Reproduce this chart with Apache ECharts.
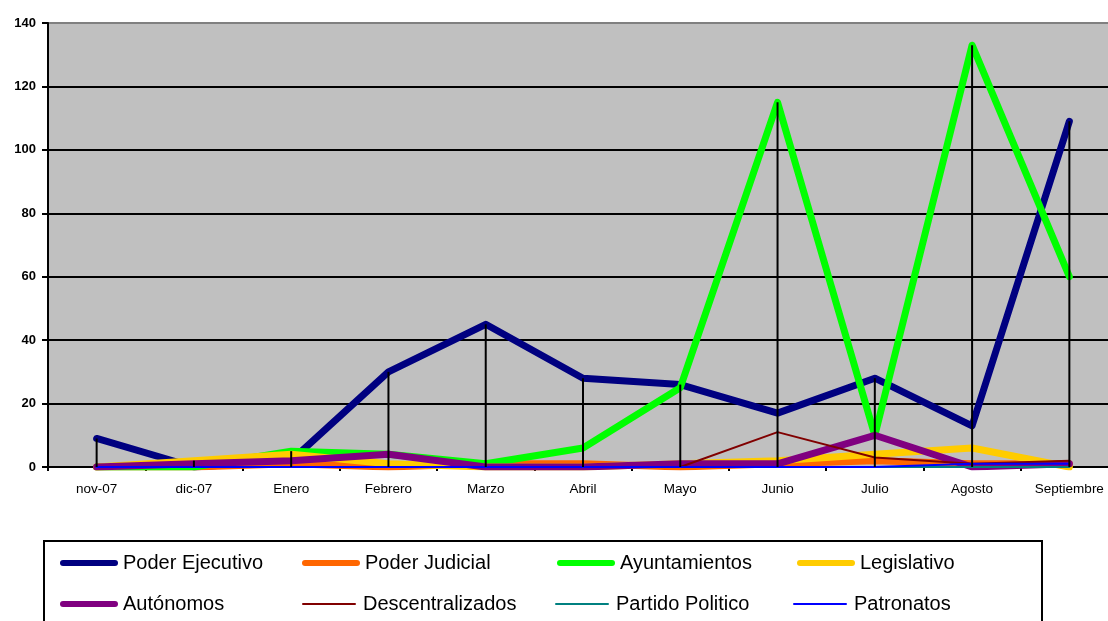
<!DOCTYPE html>
<html>
<head>
<meta charset="utf-8">
<script src="https://cdn.jsdelivr.net/npm/echarts@6/dist/echarts.min.js"></script>
<style>
html,body{margin:0;padding:0;background:#fff;}
#chart{width:1108px;height:621px;}
</style>
</head>
<body>
<div id="chart"></div>
<script>
var categories = ['nov-07','dic-07','Enero','Febrero','Marzo','Abril','Mayo','Junio','Julio','Agosto','Septiembre'];
var poderEjecutivo   = [9, 0, 2, 30, 45, 28, 26, 17, 28, 13, 109];
var poderJudicial    = [0, 0, 1, 0, 1, 1, 0, 1, 2, 1, 1];
var ayuntamientos    = [0, 0, 5, 4, 1, 6, 25, 115, 10, 133, 60];
var legislativo      = [0, 2, 4, 1, 0, 0, 1, 2, 4, 6, 0];
var autonomos        = [0, 1, 2, 4, 0, 0, 1, 1, 10, 0, 1];
var descentralizados = [0, 0, 0, 0, 0, 0, 0, 11, 3, 1, 2];
var partidoPolitico  = [0, 0, 0, 0, 0, 0, 0, 0, 0, 0, 0];
var patronatos       = [0, 0, 0, 0, 0, 0, 0, 0, 0, 1, 1];
var yTicks = [0, 20, 40, 60, 80, 100, 120, 140];

var seriesDefs = [
  {name:'Poder Ejecutivo', data:poderEjecutivo, color:'#000080', w:7},
  {name:'Poder Judicial', data:poderJudicial, color:'#FF6600', w:7},
  {name:'Ayuntamientos', data:ayuntamientos, color:'#00FF00', w:7},
  {name:'Legislativo', data:legislativo, color:'#FFCC00', w:7},
  {name:'Autónomos', data:autonomos, color:'#800080', w:7},
  {name:'Descentralizados', data:descentralizados, color:'#800000', w:2},
  {name:'Partido Politico', data:partidoPolitico, color:'#008080', w:2},
  {name:'Patronatos', data:patronatos, color:'#0000FF', w:2}
];
var legendTextWidths = [166, 179, 164, 160];

var hiLo = categories.map(function(c, i){
  var vals = seriesDefs.map(function(s){ return s.data[i]; });
  return [i, Math.max.apply(null, vals), Math.min.apply(null, vals)];
});

var series = seriesDefs.map(function(s){
  return {
    name: s.name, type: 'line', data: s.data,
    symbol: 'none', showSymbol: false, animation: false,
    color: s.color,
    lineStyle: {color: s.color, width: s.w, cap: 'round', join: 'round'},
    itemStyle: {color: s.color}
  };
});
series.push({
  type: 'custom', name: 'hilo', data: hiLo, animation: false, z: 5,
  renderItem: function(params, api){
    var p1 = api.coord([api.value(0), api.value(1)]);
    var p2 = api.coord([api.value(0), api.value(2)]);
    return {type:'line', shape:{x1:p1[0], y1:p1[1], x2:p2[0], y2:p2[1]}, style:{stroke:'#000', lineWidth:2}};
  }
});

var chart = echarts.init(document.getElementById('chart'), null, {renderer:'canvas'});
chart.setOption({
  animation: false,
  backgroundColor: '#fff',
  grid: {left: 48, right: -10, top: 23, bottom: 154, outerBoundsMode: 'none', containLabel: false,
    show: true, backgroundColor: '#C0C0C0', borderColor: '#808080', borderWidth: 2},
  xAxis: {
    type: 'category', data: categories, boundaryGap: true,
    axisLine: {lineStyle: {color: '#000', width: 2}},
    axisTick: {show: true, length: 4, lineStyle: {color: '#000', width: 2}},
    axisLabel: {color: '#000', fontFamily: 'Liberation Sans, Arial', fontSize: 13.5, margin: 15, interval: 0, hideOverlap: false}
  },
  yAxis: {
    type: 'value', min: 0, max: 140, interval: 20,
    axisLine: {show: true, lineStyle: {color: '#000', width: 2}},
    axisTick: {show: true, length: 6, lineStyle: {color: '#000', width: 2}},
    axisLabel: {color: '#000', fontFamily: 'Liberation Sans, Arial', fontSize: 13, fontWeight: 'bold', margin: 12,
      formatter: function(v){ return yTicks.indexOf(v) >= 0 ? String(v) : ''; }},
    splitLine: {show: true, lineStyle: {color: ['#000','#000','#000','#000','#000','#000','#000','#808080'], width: 2}}
  },
  legend: {
    left: 55, top: 544, width: 1010,
    itemWidth: 52, itemHeight: 8, itemGap: 13,
    itemStyle: {opacity: 0},
    textStyle: {color: '#000', fontFamily: 'Liberation Sans, Arial', fontSize: 20, width: 168, lineHeight: 28, padding: [0,0,0,3]},
    data: seriesDefs.map(function(s, i){
      return {name: s.name,
        textStyle: {color: '#000', fontFamily: 'Liberation Sans, Arial', fontSize: 20, width: legendTextWidths[i % 4], lineHeight: 28, padding: [0,0,0,3]},
        lineStyle: {color: s.color, width: s.w === 7 ? 6 : 2, cap: 'round'}};
    })
  },
  graphic: [{type:'rect', shape:{x:44, y:541, width:998, height:100}, style:{fill:'none', stroke:'#000', lineWidth:2}, z: -1}],
  series: series
});
</script>
</body>
</html>
